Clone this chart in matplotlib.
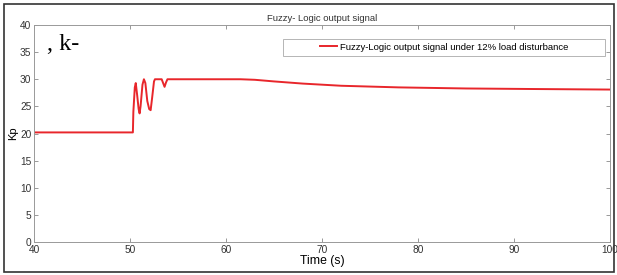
import matplotlib.pyplot as plt
from matplotlib.patches import Rectangle

plt.rcParams['font.family'] = ['Liberation Sans', 'DejaVu Sans']

# Kp signal
time = [40, 50.3, 50.35, 50.5, 50.6, 50.75, 50.9, 51.0, 51.1, 51.3, 51.45, 51.6,
        51.8, 52.0, 52.15, 52.3, 52.5, 52.6, 53.3, 53.45, 53.6, 53.75, 53.9,
        61.5, 63, 65, 68, 72, 78, 85, 92, 100]
kp = [20.2, 20.2, 24.0, 28.5, 29.3, 27.0, 24.5, 23.7, 25.0, 29.0, 30.0, 29.3,
      26.0, 24.5, 24.3, 26.5, 29.6, 30.0, 30.0, 29.3, 28.6, 29.4, 30.0,
      30.0, 29.9, 29.6, 29.2, 28.8, 28.5, 28.3, 28.2, 28.1]

x_ticks = [40, 50, 60, 70, 80, 90, 100]
y_ticks = [0, 5, 10, 15, 20, 25, 30, 35, 40]

W, H = 617, 275
fig = plt.figure(figsize=(W / 100, H / 100), dpi=100)
ax = fig.add_axes([34 / W, 1 - 242 / H, 576 / W, 217 / H])

ax.plot(time, kp, color='#e8262b', lw=1.4,
        label='Fuzzy-Logic output signal under 12% load disturbance')

ax.set_xlim(40, 100)
ax.set_ylim(0, 40)
ax.set_xticks(x_ticks)
ax.set_yticks(y_ticks)
ax.tick_params(direction='in', top=True, right=True, length=3, width=0.6,
               colors='#888888', labelcolor='#333333', labelsize=7.3, pad=2)
for s in ax.spines.values():
    s.set_color('#999999')
    s.set_linewidth(0.7)

ax.set_title('Fuzzy- Logic output signal', fontsize=6.8, color='#333333', pad=3)
ax.set_xlabel('Time (s)', fontsize=8.8, labelpad=0)
ax.set_ylabel('Kp', fontsize=8, labelpad=1)

# MATLAB-style legend: wide frame with the entry centred in it
ax.legend(loc='center', bbox_to_anchor=(444 / W, 1 - 47 / H),
          bbox_transform=fig.transFigure, fontsize=6.8, handlelength=1.8,
          handletextpad=0.3, frameon=False)
fig.patches.append(Rectangle((283 / W, 1 - 56 / H), 322 / W, 17 / H,
                             transform=fig.transFigure, fill=False,
                             edgecolor='#aaaaaa', lw=0.6))

fig.text(47 / W, 1 - 45 / H, ', k-', fontsize=17.5, family='Liberation Serif',
         va='center', ha='left')

fig.patches.append(Rectangle((4 / W, 3 / H), 610 / W, 268 / H,
                             transform=fig.transFigure, fill=False,
                             edgecolor='#333333', lw=1.2))

fig.savefig('out.png', dpi=100)
